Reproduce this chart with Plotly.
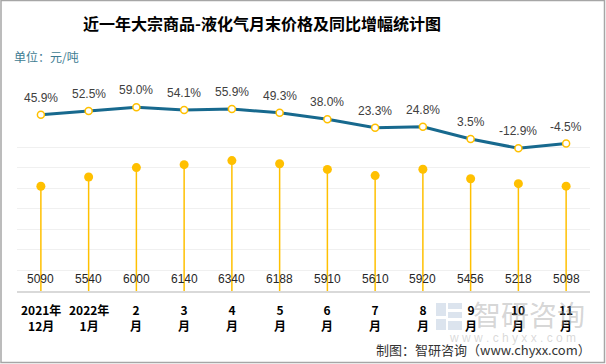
import plotly.graph_objects as go

categories = ["2021年<br>12月", "2022年<br>1月", "2<br>月", "3<br>月", "4<br>月", "5<br>月",
              "6<br>月", "7<br>月", "8<br>月", "9<br>月", "10<br>月", "11<br>月"]
prices = [5090, 5540, 6000, 6140, 6340, 6188, 5910, 5610, 5920, 5456, 5218, 5098]
growth = [45.9, 52.5, 59.0, 54.1, 55.9, 49.3, 38.0, 23.3, 24.8, 3.5, -12.9, -4.5]

W, H = 606, 364
ML, MR, MT, MB = 17, 16, 90, 73
plot_w = W - ML - MR
plot_h = H - MT - MB
px_per_unit = (291 - 147) / 7000.0
y1_max = plot_h / px_per_unit
px_per_pct = 0.570
y2_min = -12.9 - (291 - 148.3) / px_per_pct
y2_max = 59.0 + (107.3 - MT) / px_per_pct

ORANGE = "#FFC000"
BLUE = "#17698E"
x_idx = list(range(len(categories)))

fig = go.Figure()

# stems
for i, v in enumerate(prices):
    fig.add_trace(go.Scatter(x=[i, i], y=[0, v], mode="lines",
                             line=dict(color=ORANGE, width=1.5),
                             hoverinfo="skip", showlegend=False))
# dots
fig.add_trace(go.Scatter(x=x_idx, y=prices, mode="markers",
                         marker=dict(color=ORANGE, size=9),
                         showlegend=False))
# growth line
fig.add_trace(go.Scatter(x=x_idx, y=growth, mode="lines+markers", yaxis="y2",
                         line=dict(color=BLUE, width=3),
                         marker=dict(color="white", size=7,
                                     line=dict(color=ORANGE, width=1.5)),
                         showlegend=False))

annotations = []
for i, (p, g) in enumerate(zip(prices, growth)):
    annotations.append(dict(x=i, y=0, xref="x", yref="y", text=str(p), showarrow=False,
                            yshift=12, font=dict(size=12, color="#262626",
                                                 family="Liberation Sans, Arial, sans-serif")))
    annotations.append(dict(x=i, y=g, xref="x", yref="y2", text=f"{g:.1f}%", showarrow=False,
                            yshift=17, font=dict(size=12, color="#404040",
                                                 family="Liberation Sans, Arial, sans-serif")))
    annotations.append(dict(x=i, y=0, xref="x", yref="paper", text="<b>" + categories[i] + "</b>",
                            showarrow=False, yanchor="top", yshift=-8,
                            font=dict(size=12, color="#000000",
                                      family="Noto Sans CJK SC, sans-serif")))


def px_x(x):
    return (x - ML) / plot_w


def px_y(y):
    return (H - MB - y) / plot_h


annotations += [
    dict(x=px_x(262), y=px_y(23), xref="paper", yref="paper", xanchor="center", yanchor="middle",
         text="<b>近一年大宗商品-液化气月末价格及同比增幅统计图</b>", showarrow=False,
         font=dict(size=16, color="#000000", family="Noto Sans CJK SC, sans-serif")),
    dict(x=px_x(12), y=px_y(57), xref="paper", yref="paper", xanchor="left", yanchor="middle",
         text="单位：元/吨", showarrow=False,
         font=dict(size=12, color="#3E7C92", family="Noto Sans CJK SC, sans-serif")),
    dict(x=px_x(471), y=px_y(314), xref="paper", yref="paper", xanchor="left", yanchor="middle",
         text="智研咨询", showarrow=False,
         font=dict(size=28, color="rgba(150,150,150,0.40)", family="Noto Sans CJK SC, sans-serif")),
    dict(x=px_x(512), y=px_y(338), xref="paper", yref="paper", xanchor="center", yanchor="middle",
         text="w w w . c h y x x . c o m", showarrow=False,
         font=dict(size=12, color="rgba(170,170,170,0.45)", family="Liberation Sans, sans-serif")),
    dict(x=px_x(593), y=px_y(349), xref="paper", yref="paper", xanchor="right", yanchor="middle",
         text="制图：智研咨询（www.chyxx.com）", showarrow=False,
         font=dict(size=13, color="#333333", family="Noto Sans CJK SC, sans-serif")),
]

shapes = [
    dict(type="rect", xref="paper", yref="paper",
         x0=px_x(1), x1=px_x(604.5), y0=px_y(362.5), y1=px_y(0.5),
         line=dict(color="#A6A6A6", width=1.5), fillcolor="rgba(0,0,0,0)", layer="below"),
]
# watermark logo blocks
logo_color = "rgba(140,165,200,0.30)"
for (x0, y0, x1, y1) in [(436, 303, 446, 316), (448, 303, 462, 309), (448, 312, 462, 318),
                         (436, 319, 446, 330), (448, 321, 462, 330)]:
    shapes.append(dict(type="rect", xref="paper", yref="paper",
                       x0=px_x(x0), x1=px_x(x1), y0=px_y(y1), y1=px_y(y0),
                       line=dict(width=0), fillcolor=logo_color, layer="below"))

fig.update_layout(
    width=W, height=H,
    margin=dict(l=ML, r=MR, t=MT, b=MB),
    paper_bgcolor="white", plot_bgcolor="white",
    xaxis=dict(range=[-0.5, len(categories) - 0.5], showticklabels=False, showgrid=False,
               zeroline=False, showline=True, linecolor="#D9D9D9", linewidth=1.5, ticks=""),
    yaxis=dict(range=[0, y1_max], tickvals=[1000, 2000, 3000, 4000, 5000, 6000, 7000],
               showticklabels=False, showgrid=True, gridcolor="#F0F0F0", gridwidth=1,
               zeroline=False, showline=False),
    yaxis2=dict(range=[y2_min, y2_max], overlaying="y", side="right", showticklabels=False,
                showgrid=False, zeroline=False, showline=False),
    annotations=annotations,
    shapes=shapes,
    showlegend=False,
)

fig.write_html("out.html", config={"displayModeBar": False},
               post_script="document.body.style.margin='0';document.body.style.padding='0';")
